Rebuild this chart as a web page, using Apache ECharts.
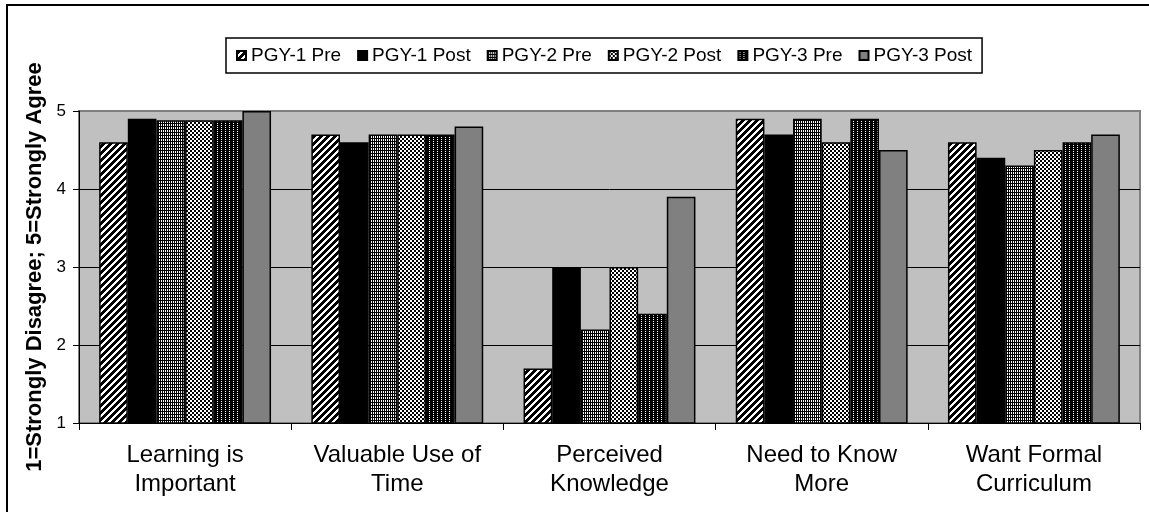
<!DOCTYPE html>
<html>
<head>
<meta charset="utf-8">
<script src="https://cdn.jsdelivr.net/npm/echarts@6/dist/echarts.min.js"></script>
<style>
html,body{margin:0;padding:0;background:#fff;}
#chart{width:1149px;height:512px;}
</style>
</head>
<body>
<div id="chart"></div>
<script>
const categories = ['Learning is\nImportant', 'Valuable Use of\nTime', 'Perceived\nKnowledge', 'Need to Know\nMore', 'Want Formal\nCurriculum'];
const seriesNames = ['PGY-1 Pre', 'PGY-1 Post', 'PGY-2 Pre', 'PGY-2 Post', 'PGY-3 Pre', 'PGY-3 Post'];
const pgy1Pre  = [4.6, 4.7, 1.7, 4.9, 4.6];
const pgy1Post = [4.9, 4.6, 3.0, 4.7, 4.4];
const pgy2Pre  = [4.88, 4.7, 2.2, 4.9, 4.3];
const pgy2Post = [4.88, 4.7, 3.0, 4.6, 4.5];
const pgy3Pre  = [4.88, 4.7, 2.4, 4.9, 4.6];
const pgy3Post = [5.0, 4.8, 3.9, 4.5, 4.7];
const yTicks = [1, 2, 3, 4, 5];
const yTitle = '1=Strongly Disagree; 5=Strongly Agree';

function tile(size, fn) {
  const c = document.createElement('canvas');
  c.width = size; c.height = size;
  const ctx = c.getContext('2d');
  const img = ctx.createImageData(size, size);
  for (let y = 0; y < size; y++) {
    for (let x = 0; x < size; x++) {
      const v = fn(x, y) ? 0 : 255;
      const i = (y * size + x) * 4;
      img.data[i] = v; img.data[i + 1] = v; img.data[i + 2] = v; img.data[i + 3] = 255;
    }
  }
  ctx.putImageData(img, 0, 0);
  return { image: c, repeat: 'repeat' };
}

const fills = [
  tile(7, (x, y) => (x + y) % 7 < 4),
  '#000000',
  tile(6, (x, y) => !(x % 2 === 1 && y % 3 !== 0)),
  tile(4, (x, y) => (((x >> 1) + (y >> 1)) % 2) === 0),
  tile(4, (x, y) => !(x % 4 === 1 && y % 2 === 1)),
  '#808080'
];
const values = [pgy1Pre, pgy1Post, pgy2Pre, pgy2Post, pgy3Pre, pgy3Post];

const chart = echarts.init(document.getElementById('chart'), null, { renderer: 'canvas' });
chart.setOption({
  animation: false,
  backgroundColor: '#ffffff',
  textStyle: { fontFamily: 'Liberation Sans, Arial, sans-serif', color: '#000' },
  graphic: [{
    type: 'rect', silent: true, z: -1,
    shape: { x: 7, y: 5, width: 1170, height: 530 },
    style: { fill: null, stroke: '#000', lineWidth: 2 }
  }],
  legend: {
    left: 226, top: 38,
    padding: [8, 10],
    itemGap: 16,
    itemWidth: 9, itemHeight: 9,
    icon: 'rect',
    borderColor: '#000', borderWidth: 1.5,
    textStyle: { fontSize: 19, color: '#000', fontFamily: 'Liberation Sans, Arial, sans-serif' },
    data: seriesNames
  },
  grid: {
    left: 79, right: 9, top: 111, bottom: 89,
    show: true, backgroundColor: '#c0c0c0', borderColor: '#808080', borderWidth: 2,
    containLabel: false
  },
  xAxis: {
    type: 'category',
    data: categories,
    axisLine: { lineStyle: { color: '#000', width: 1 } },
    axisTick: { show: true, length: 7, alignWithLabel: false, lineStyle: { color: '#000' } },
    axisLabel: { fontSize: 24, lineHeight: 29, margin: 18, color: '#000', interval: 0 }
  },
  yAxis: {
    type: 'value',
    min: yTicks[0], max: yTicks[yTicks.length - 1], interval: 1,
    name: yTitle,
    nameLocation: 'middle',
    nameGap: 32,
    nameTextStyle: { fontSize: 22, fontWeight: 'bold', color: '#000' },
    axisLine: { show: true, lineStyle: { color: '#000', width: 1 } },
    axisTick: { show: true, length: 6, lineStyle: { color: '#000' } },
    axisLabel: { fontSize: 17, color: '#000', margin: 13 },
    splitLine: { show: true, showMaxLine: false, showMinLine: false, lineStyle: { color: '#000', width: 1 } }
  },
  series: seriesNames.map((n, i) => ({
    name: n,
    type: 'bar',
    data: values[i],
    barGap: '0%',
    barCategoryGap: '19%',
    itemStyle: { color: fills[i], borderColor: '#000', borderWidth: 1.5 }
  }))
});
</script>
</body>
</html>
